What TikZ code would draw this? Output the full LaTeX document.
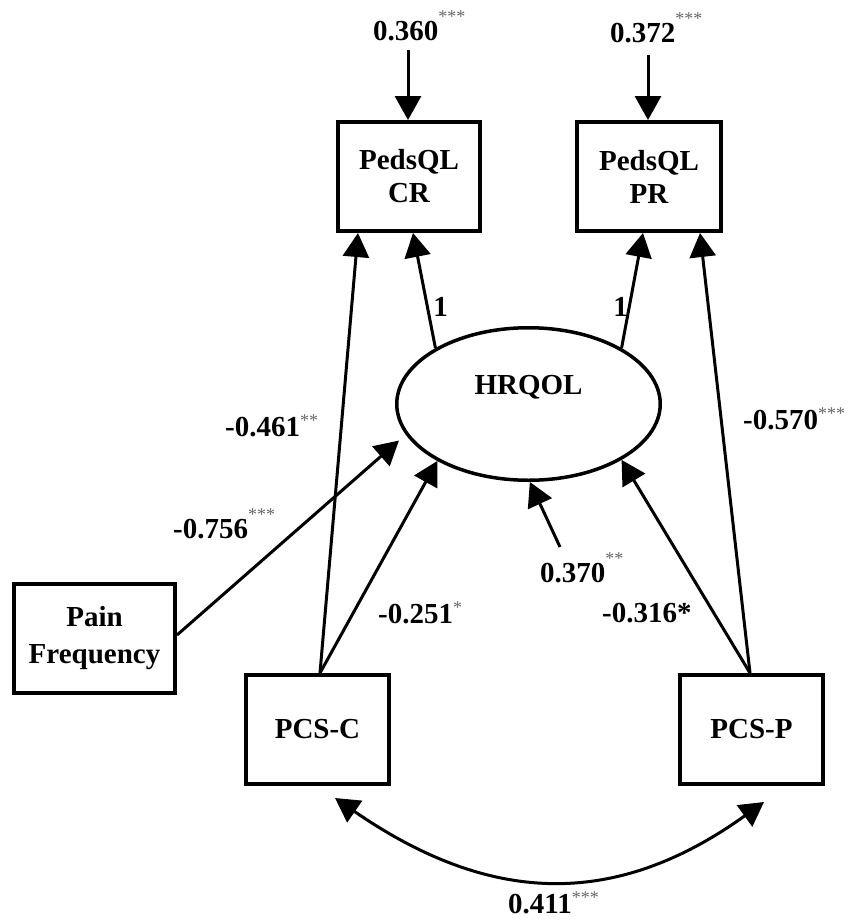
\documentclass[tikz,border=0pt]{standalone}
\usepackage{fontspec}
\setmainfont{Liberation Serif}
\usetikzlibrary{arrows.meta,shapes.geometric,calc}
\definecolor{stargray}{HTML}{666666}
\newcommand{\starhi}[1]{\raisebox{18pt}{\fontsize{18}{18}\selectfont\mdseries\color{stargray}#1}}
\newcommand{\starlo}[1]{\raisebox{9.5pt}{\fontsize{18}{18}\selectfont\mdseries\color{stargray}#1}}
\begin{document}
\begin{tikzpicture}[x=1pt,y=-1pt,
  every node/.style={font=\fontsize{29}{33}\selectfont\bfseries},
  obsbox/.style={draw,line width=4pt,rectangle,inner sep=0pt,align=center,minimum height=109pt},
  latent/.style={draw,line width=3.5pt,ellipse,inner sep=0pt,minimum width=263.5pt,minimum height=152.5pt},
  lab/.style={inner sep=0pt,anchor=base west},
  arr/.style={line width=3pt,-{Triangle[length=24pt,width=26pt]}},
  darr/.style={line width=3pt,{Triangle[length=24pt,width=26pt]}-{Triangle[length=24pt,width=26pt]}}]
\useasboundingbox (0,0) rectangle (848,924);

% nodes
\node[obsbox,minimum width=142pt] (cr) at (409,176.5) {PedsQL\\CR};
\node[obsbox,minimum width=144pt] (pr) at (649,176.5) {PedsQL\\PR};
\node[latent,label={[yshift=17pt,inner sep=0pt]center:HRQOL}] (hr) at (528.5,404) {};
\node[obsbox,minimum width=161pt,font=\fontsize{29}{37}\selectfont\bfseries] (pain) at (94.5,638.5) {Pain\\Frequency};
\node[obsbox,minimum width=143pt] (pcsc) at (317.5,729.5) {PCS-C};
\node[obsbox,minimum width=143pt] (pcsp) at (751.5,729.5) {PCS-P};

% free ends of residual arrows
\coordinate (r1) at (408,50);
\coordinate (r2) at (648,55);
\coordinate (r3) at (560,547);

% connectors
\draw[arr] (r1) -- (cr.north -| r1);
\draw[arr] (r2) -- (pr.north -| r2);
\draw[arr] (hr.149.2) -- ([xshift=4pt]cr.south);
\draw[arr] (hr.31.4) -- ([xshift=-6pt]pr.south);
\draw[arr] ([xshift=2.5pt]pcsc.north) -- ([xshift=-51pt]cr.south);
\draw[arr] ([xshift=-1.5pt]pcsp.north) -- ([xshift=51pt]pr.south);
\draw[arr] ([xshift=2.5pt]pcsc.north) -- (hr.212.2);
\draw[arr] ([xshift=-1.5pt]pcsp.north) -- (hr.329.4);
\draw[arr,shorten >=9pt] ([yshift=3.5pt]pain.east) -- (hr.194.2);
\draw[arr] (r3) -- (hr.271);
\draw[darr] ([xshift=17.5pt,yshift=-12pt]pcsc.south) .. controls (490,905) and (615,909) .. ([xshift=12.5pt,yshift=-16pt]pcsp.south);

% labels
\node[lab] (l360) at (373,40) {0.360\starhi{***}};
\node[lab] (l372) at (610,42) {0.372\starhi{***}};
\node[inner sep=0pt,anchor=base] (l1a) at (440.5,316) {1};
\node[inner sep=0pt,anchor=base] (l1b) at (620.5,316) {1};
\node[lab] (l461) at (225,436) {-0.461\starlo{**}};
\node[lab] (l756) at (173,538) {-0.756\starhi{***}};
\node[lab] (l570) at (743,429) {-0.570\starlo{***}};
\node[lab] (l251) at (378,623) {-0.251\starlo{*}};
\node[lab] (l370) at (540,582) {0.370\starhi{**}};
\node[lab] (l316) at (602,622) {-0.316*};
\node[lab] (l411) at (508,913) {0.411\starlo{***}};
\end{tikzpicture}
\end{document}
